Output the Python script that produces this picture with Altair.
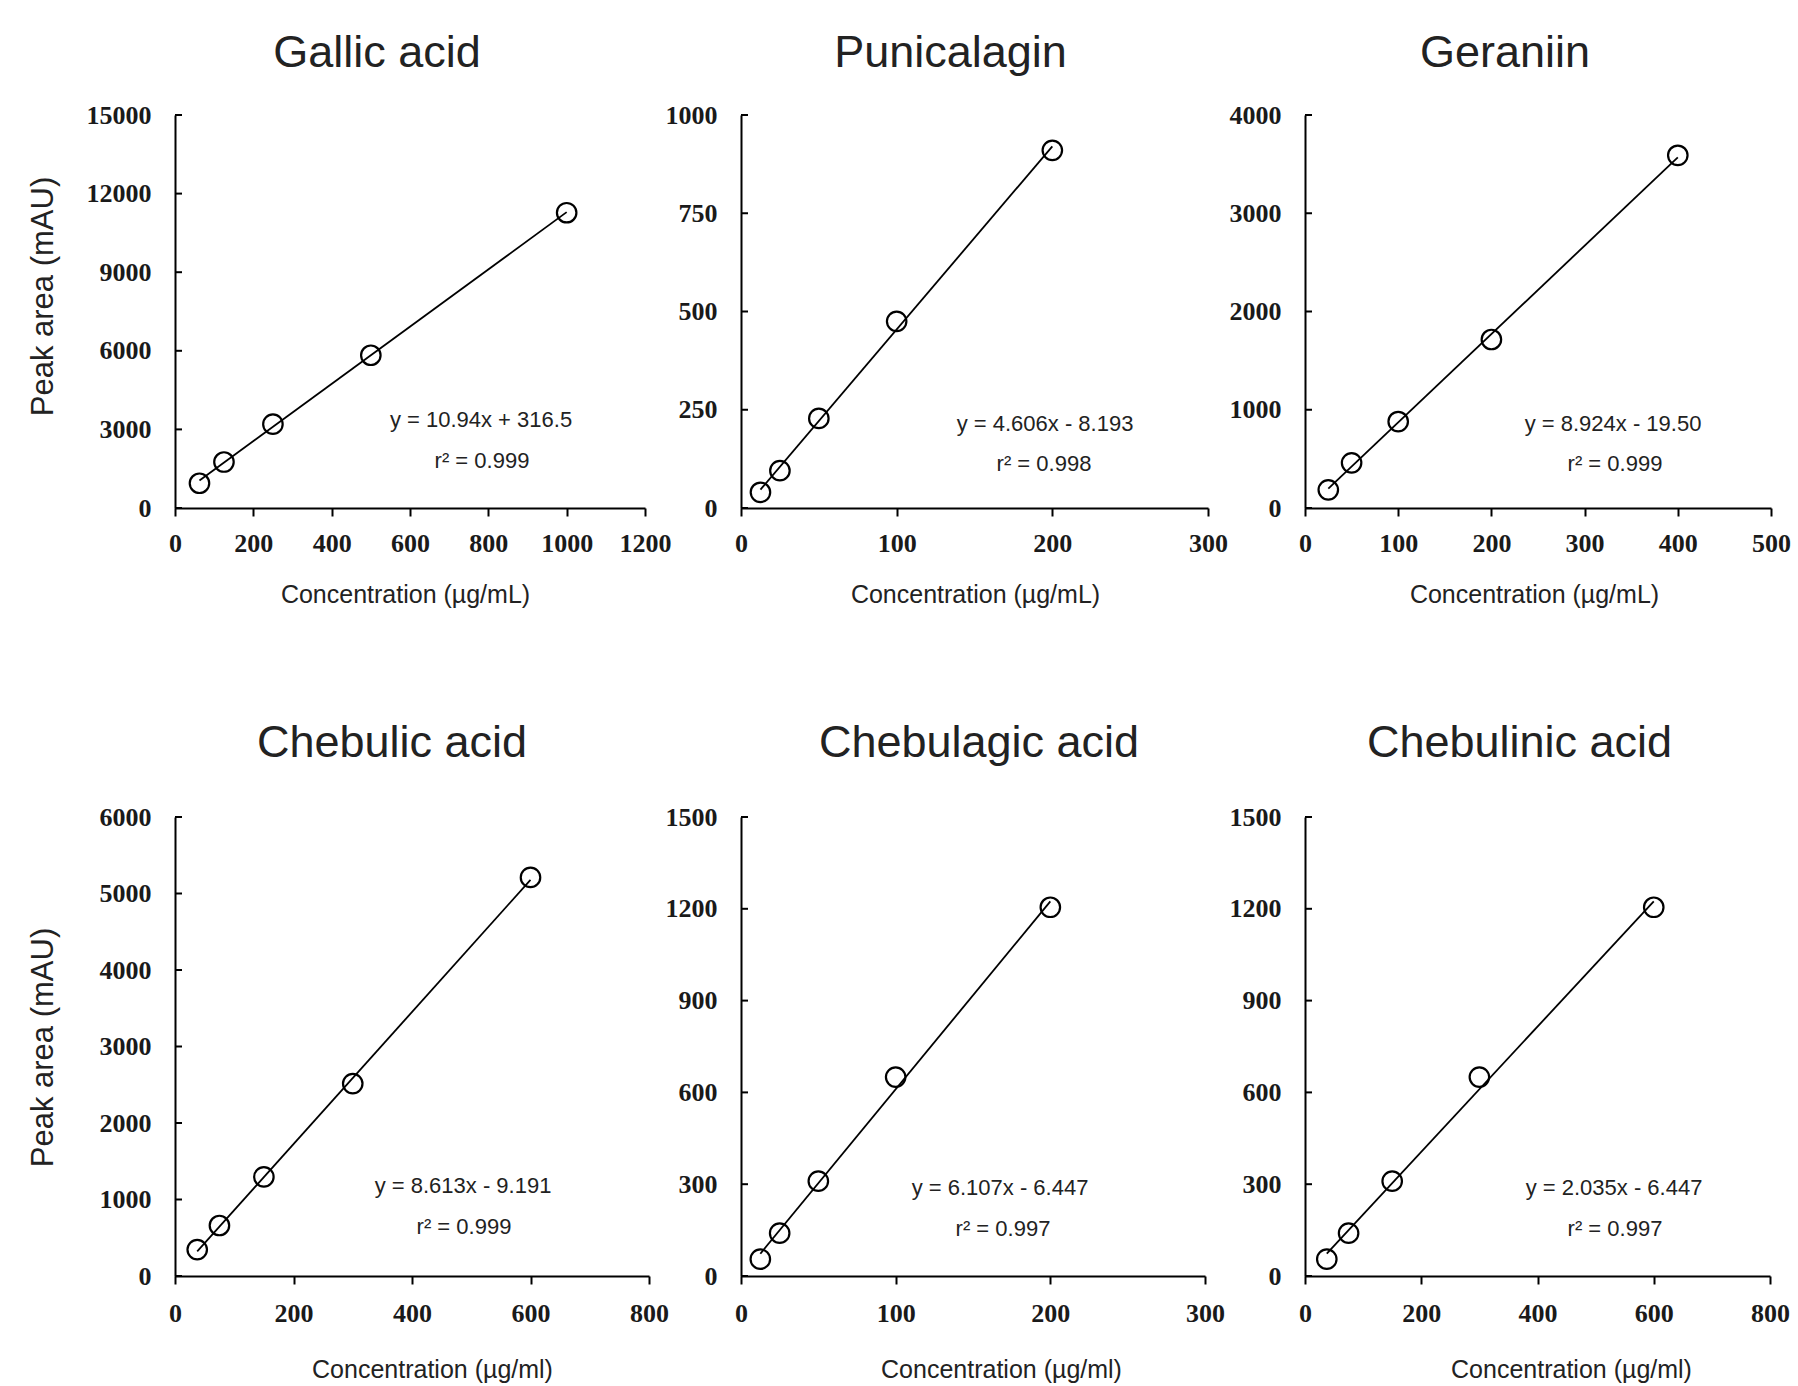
import altair as alt
import pandas as pd

# ---------------- data ----------------
names = ["Gallic acid", "Punicalagin", "Geraniin",
         "Chebulic acid", "Chebulagic acid", "Chebulinic acid"]

gallic_x = [62.5, 125, 250, 500, 1000]
gallic_y = [945, 1755, 3200, 5830, 11270]
punicalagin_x = [12.5, 25, 50, 100, 200]
punicalagin_y = [40, 95, 228, 475, 910]
geraniin_x = [25, 50, 100, 200, 400]
geraniin_y = [185, 460, 880, 1715, 3590]
chebulic_x = [37.5, 75, 150, 300, 600]
chebulic_y = [345, 660, 1295, 2515, 5210]
chebulagic_x = [12.5, 25, 50, 100, 200]
chebulagic_y = [55, 140, 310, 650, 1205]
chebulinic_x = [37.5, 75, 150, 300, 600]
chebulinic_y = [55, 140, 310, 650, 1205]

x_ticks = [
    [0, 200, 400, 600, 800, 1000, 1200],
    [0, 100, 200, 300],
    [0, 100, 200, 300, 400, 500],
    [0, 200, 400, 600, 800],
    [0, 100, 200, 300],
    [0, 200, 400, 600, 800],
]
y_ticks = [
    [0, 3000, 6000, 9000, 12000, 15000],
    [0, 250, 500, 750, 1000],
    [0, 1000, 2000, 3000, 4000],
    [0, 1000, 2000, 3000, 4000, 5000, 6000],
    [0, 300, 600, 900, 1200, 1500],
    [0, 300, 600, 900, 1200, 1500],
]
equations = ["y = 10.94x + 316.5", "y = 4.606x - 8.193", "y = 8.924x - 19.50",
             "y = 8.613x - 9.191", "y = 6.107x - 6.447", "y = 2.035x - 6.447"]
r2_texts = ["r² = 0.999", "r² = 0.998", "r² = 0.999",
            "r² = 0.999", "r² = 0.997", "r² = 0.997"]
x_titles = ["Concentration (µg/mL)"] * 3 + ["Concentration (µg/ml)"] * 3
y_title = "Peak area (mAU)"

series = [(gallic_x, gallic_y), (punicalagin_x, punicalagin_y), (geraniin_x, geraniin_y),
          (chebulic_x, chebulic_y), (chebulagic_x, chebulagic_y), (chebulinic_x, chebulinic_y)]

# ---------------- layout (pixels) ----------------
sizes = [(470, 393), (467, 393), (466, 393), (474, 459), (464, 459), (465, 459)]
title_dx = [-33, -24, -33, -20, 6, -18]
title_offset = [-10, -10, -10, 2, 2, 2]
eq_pos = [(306, 305), (304, 309), (308, 309), (288, 369), (259, 371), (309, 371)]
r2_pos = [(307, 346), (303, 349), (310, 349), (289, 410), (262, 412), (310, 412)]
xtitle_x = [230, 234, 229, 257, 260, 266]
xtitle_y = [86, 86, 86, 93, 93, 93]
xlabel_pad = [14, 14, 14, 16, 16, 16]
ytitle_y = [181, 181, 181, 230, 230, 230]

TEXT_FONT = "Liberation Sans"


def panel(i):
    xs, ys = series[i]
    w, h = sizes[i]
    df = pd.DataFrame({"x": xs, "y": ys})
    xscale = alt.Scale(domain=[x_ticks[i][0], x_ticks[i][-1]], nice=False, zero=True)
    yscale = alt.Scale(domain=[y_ticks[i][0], y_ticks[i][-1]], nice=False, zero=True)
    first_col = i % 3 == 0
    xaxis = alt.Axis(values=x_ticks[i], format="d", title=x_titles[i], tickSize=8,
                     labelPadding=xlabel_pad[i], titleX=xtitle_x[i], titleY=xtitle_y[i],
                     titleBaseline="middle", titleFontSize=25, labelFlush=False)
    if first_col:
        yaxis = alt.Axis(values=y_ticks[i], format="d", title=y_title, ticks=False, tickSize=0,
                         labelPadding=24, titleX=-132, titleY=ytitle_y[i],
                         titleBaseline="middle", titleFontSize=31, titleAngle=270,
                         labelFlush=False)
    else:
        yaxis = alt.Axis(values=y_ticks[i], format="d", title=None, ticks=False, tickSize=0,
                         labelPadding=24, labelFlush=False)

    X = alt.X("x:Q", scale=xscale, axis=xaxis)
    Y = alt.Y("y:Q", scale=yscale, axis=yaxis)

    line = alt.Chart(df).transform_regression("x", "y").mark_line(
        color="black", strokeWidth=1.8).encode(x=X, y=Y)
    pts = alt.Chart(df).mark_point(shape="circle", filled=False, color="black",
                                   size=380, strokeWidth=2.2, opacity=1).encode(x=X, y=Y)
    tick_df = pd.DataFrame({"y": y_ticks[i]})
    inner_ticks = alt.Chart(tick_df).mark_rule(color="black", strokeWidth=2).encode(
        y=Y, x=alt.value(0), x2=alt.value(7))
    eq = alt.Chart(pd.DataFrame({"t": [equations[i]]})).mark_text(
        font=TEXT_FONT, fontSize=22, color="#222", align="center", baseline="middle"
    ).encode(text="t:N", x=alt.value(eq_pos[i][0]), y=alt.value(eq_pos[i][1]))
    r2 = alt.Chart(pd.DataFrame({"t": [r2_texts[i]]})).mark_text(
        font=TEXT_FONT, fontSize=22, color="#222", align="center", baseline="middle"
    ).encode(text="t:N", x=alt.value(r2_pos[i][0]), y=alt.value(r2_pos[i][1]))

    return alt.layer(inner_ticks, line, pts, eq, r2).properties(
        width=w, height=h,
        title=alt.TitleParams(names[i], fontSize=45, font=TEXT_FONT, fontWeight="normal",
                              color="#222", anchor="middle", frame="group",
                              baseline="alphabetic", offset=title_offset[i], dx=title_dx[i]),
    )


def spacer(w, h):
    return alt.Chart(pd.DataFrame({"s": [0]})).mark_rect(opacity=0).encode(
        x=alt.value(0), x2=alt.value(w), y=alt.value(0), y2=alt.value(h)
    ).properties(width=w, height=h)


col_sp = [174, 92, 97]
items = []
# top spacer row
items += [spacer(col_sp[0], 114), spacer(1, 114), spacer(col_sp[1], 114),
          spacer(1, 114), spacer(col_sp[2], 114), spacer(1, 114)]
# row 1
items += [spacer(col_sp[0], 1), panel(0), spacer(col_sp[1], 1), panel(1),
          spacer(col_sp[2], 1), panel(2)]
# gap row
items += [spacer(col_sp[0], 309), spacer(1, 309), spacer(col_sp[1], 309),
          spacer(1, 309), spacer(col_sp[2], 309), spacer(1, 309)]
# row 2
items += [spacer(col_sp[0], 1), panel(3), spacer(col_sp[1], 1), panel(4),
          spacer(col_sp[2], 1), panel(5)]

chart = alt.concat(*items, columns=6, spacing=0, bounds="flush").properties(
    padding=0, background="white"
).configure_view(stroke="transparent").configure_axis(
    grid=False, domainColor="black", domainWidth=2, tickColor="black", tickWidth=2,
    labelFont="Liberation Serif", labelFontWeight="bold", labelFontSize=26,
    labelColor="#1a1a1a", titleFont=TEXT_FONT, titleFontWeight="normal",
    titleColor="#222", labelOverlap=False
)

chart.save("out.html", embed_options={"renderer": "svg", "actions": False})
